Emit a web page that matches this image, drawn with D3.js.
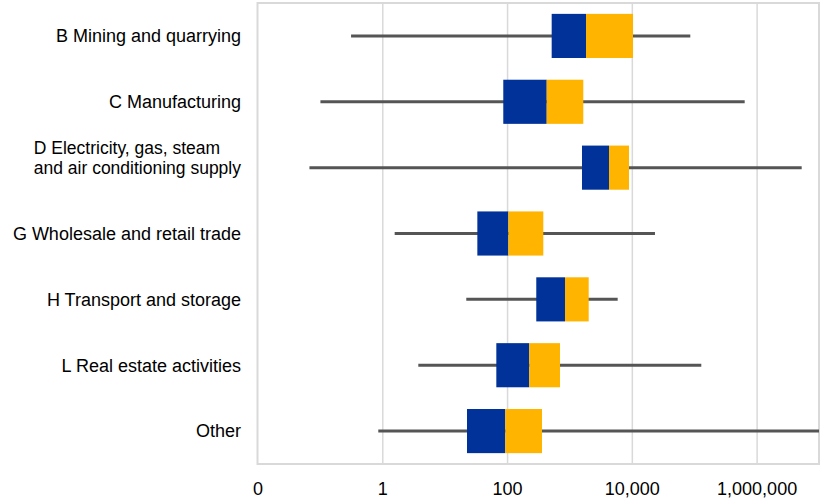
<!DOCTYPE html>
<html>
<head>
<meta charset="utf-8">
<script src="https://cdn.jsdelivr.net/npm/d3@7"></script>
<style>
  html, body { margin: 0; padding: 0; background: #fff; }
  svg { display: block; font-family: "Liberation Sans", Arial, sans-serif; }
</style>
</head>
<body>
<svg id="chart" width="820" height="498"></svg>
<script>
// ---- data ----
const categories = [
  "B Mining and quarrying",
  "C Manufacturing",
  "D Electricity, gas, steam\nand air conditioning supply",
  "G Wholesale and retail trade",
  "H Transport and storage",
  "L Real estate activities",
  "Other"
];
const minVals = [0.316, 0.102, 0.068, 1.58, 22.2, 3.78, 0.863];
const q1Vals  = [519, 87, 1589, 33.4, 294, 67.3, 22.8];
const medVals = [1842, 432, 4305, 105, 849, 227, 93.7];
const q3Vals  = [10440, 1667, 9010, 381, 2035, 706, 363];
const maxVals = [86500, 644000, 5280000, 23500, 5930, 129800, 10000000];
const tickValues = [0.01, 1, 100, 10000, 1000000];
const tickLabels = ["0", "1", "100", "10,000", "1,000,000"];

// ---- layout ----
const plot = { left: 257.5, right: 819, top: 3, bottom: 464 };
const svg = d3.select("#chart");

const x = d3.scaleLog().domain([0.01, 1e7]).range([plot.left, plot.right]).clamp(true);
const y = d3.scaleBand().domain(categories).range([plot.top, plot.bottom]).paddingInner(0.33).paddingOuter(0.165);

const rows = categories.map((c, i) => ({
  cat: c, min: minVals[i], q1: q1Vals[i], med: medVals[i], q3: q3Vals[i], max: maxVals[i]
}));

// gridlines
const gridAxis = d3.axisBottom(x).tickValues(tickValues.slice(1)).tickSize(-(plot.bottom - plot.top)).tickFormat("");
const gg = svg.append("g").attr("transform", `translate(0,${plot.bottom})`).call(gridAxis);
gg.select(".domain").remove();
gg.selectAll(".tick line").attr("stroke", "#d9d9d9").attr("stroke-width", 1.5);

// frame
svg.append("rect")
  .attr("x", plot.left).attr("y", plot.top)
  .attr("width", plot.right - plot.left).attr("height", plot.bottom - plot.top)
  .attr("fill", "none").attr("stroke", "#d9d9d9").attr("stroke-width", 2);

// x axis labels
const xAxis = d3.axisBottom(x).tickValues(tickValues).tickSize(0).tickPadding(0)
  .tickFormat((d, i) => tickLabels[i]);
const xa = svg.append("g").attr("transform", `translate(0,${plot.bottom})`).call(xAxis);
xa.select(".domain").remove();
xa.selectAll("text")
  .attr("y", 31).attr("dy", 0)
  .attr("font-size", 18).attr("fill", "#000")
  .style("font-family", '"Liberation Sans", Arial, sans-serif');

// y axis labels
const yAxis = d3.axisLeft(y).tickSize(0).tickPadding(0).tickFormat("");
const ya = svg.append("g").attr("transform", `translate(${plot.left},0)`).call(yAxis);
ya.select(".domain").remove();
const labelRight = 241;
rows.forEach(r => {
  const lines = r.cat.split("\n");
  const cy = y(r.cat) + y.bandwidth() / 2;
  if (lines.length === 1) {
    svg.append("text")
      .attr("font-size", 18).attr("fill", "#000")
      .attr("x", labelRight).attr("y", cy).attr("dy", "0.35em").attr("text-anchor", "end").text(lines[0]);
  } else {
    const t = svg.append("text").attr("font-size", 17.5).attr("fill", "#000");
    const spans = lines.map((ln, k) => t.append("tspan").attr("y", cy - 13.4 + 19.5 * k).text(ln));
    const maxW = d3.max(spans, s => s.node().getComputedTextLength());
    spans.forEach(s => s.attr("x", labelRight - maxW));
  }
});

// whiskers
svg.append("g").selectAll("line").data(rows).join("line")
  .attr("x1", d => x(d.min)).attr("x2", d => x(d.max))
  .attr("y1", d => y(d.cat) + y.bandwidth() / 2)
  .attr("y2", d => y(d.cat) + y.bandwidth() / 2)
  .attr("stroke", "#555555").attr("stroke-width", 3);

// lower box (q1 -> median)
svg.append("g").selectAll("rect").data(rows).join("rect")
  .attr("x", d => x(d.q1)).attr("width", d => x(d.med) - x(d.q1))
  .attr("y", d => y(d.cat)).attr("height", y.bandwidth())
  .attr("fill", "#003299");

// upper box (median -> q3)
svg.append("g").selectAll("rect").data(rows).join("rect")
  .attr("x", d => x(d.med)).attr("width", d => x(d.q3) - x(d.med))
  .attr("y", d => y(d.cat)).attr("height", y.bandwidth())
  .attr("fill", "#ffb400");
</script>
</body>
</html>
